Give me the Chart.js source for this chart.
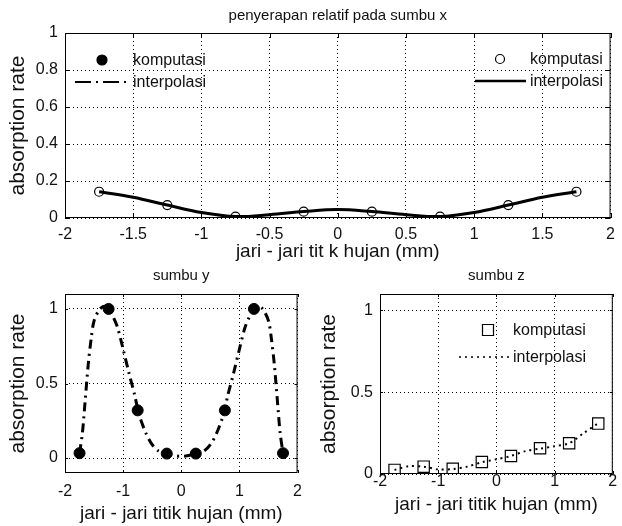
<!DOCTYPE html>
<html>
<head>
<meta charset="utf-8">
<title>penyerapan relatif</title>
<script src="https://cdn.jsdelivr.net/npm/chart.js@4.4.1/dist/chart.umd.min.js"></script>
<style>
  html, body { margin: 0; padding: 0; background: #fff; }
  #wrap { position: relative; width: 622px; height: 526px; overflow: hidden; }
  .panel { position: absolute; }
  #panelX { left: 0; top: 0; width: 622px; height: 266px; }
  #panelY { left: 0; top: 260px; width: 311px; height: 266px; }
  #panelZ { left: 315px; top: 260px; width: 307px; height: 266px; }
</style>
</head>
<body>
<div id="wrap">
  <div class="panel" id="panelX"><canvas id="grafikX"></canvas></div>
  <div class="panel" id="panelY"><canvas id="grafikY"></canvas></div>
  <div class="panel" id="panelZ"><canvas id="grafikZ"></canvas></div>
</div>
<script>
// Titik komputasi (jari-jari titik hujan dalam mm)
const jariJari = [-1.75, -1.25, -0.75, -0.25, 0.25, 0.75, 1.25, 1.75];
const komputasiX = [0.142, 0.07, 0.007, 0.034, 0.034, 0.007, 0.07, 0.142];
const komputasiY = [0.033, 1.0, 0.32, 0.03, 0.03, 0.32, 1.0, 0.033];
const komputasiZ = [0.025, 0.045, 0.032, 0.073, 0.11, 0.157, 0.188, 0.308];

// Kurva interpolasi
const jariInterpX = [-1.75, -1.5, -1.25, -1, -0.75, -0.5, -0.25, 0, 0.25, 0.5, 0.75, 1, 1.25, 1.5, 1.75];
const interpX = [0.142, 0.112, 0.07, 0.03, 0.008, 0.018, 0.035, 0.046, 0.035, 0.018, 0.008, 0.03, 0.07, 0.112, 0.142];

const jariInterpY = [-1.75, -1.7, -1.65, -1.6, -1.55, -1.5, -1.4, -1.3, -1.25, -1.2, -1.1, -1, -0.9, -0.8, -0.75, -0.7, -0.6, -0.5, -0.4, -0.3, -0.25, -0.2, -0.1, 0,
  0.1, 0.2, 0.25, 0.3, 0.4, 0.5, 0.6, 0.7, 0.75, 0.8, 0.9, 1, 1.1, 1.2, 1.25, 1.3, 1.4, 1.5, 1.55, 1.6, 1.65, 1.7, 1.75];
const interpY = [0.033, 0.17, 0.40, 0.63, 0.80, 0.92, 1.0, 1.02, 1.0, 0.97, 0.88, 0.73, 0.57, 0.42, 0.33, 0.26, 0.16, 0.09, 0.05, 0.032, 0.03, 0.025, 0.015, 0.012,
  0.015, 0.025, 0.03, 0.032, 0.05, 0.09, 0.16, 0.26, 0.33, 0.42, 0.57, 0.73, 0.88, 0.97, 1.0, 1.02, 1.0, 0.92, 0.80, 0.63, 0.40, 0.17, 0.033];

const jariInterpZ = [-1.75, -1.5, -1.25, -1, -0.75, -0.5, -0.25, 0, 0.25, 0.5, 0.75, 1, 1.25, 1.5, 1.75];
const interpZ = [0.025, 0.048, 0.045, 0.028, 0.03, 0.045, 0.072, 0.09, 0.11, 0.14, 0.155, 0.17, 0.188, 0.25, 0.31];

// Label sumbu
const tickAtasX = [-2, -1.5, -1, -0.5, 0, 0.5, 1, 1.5, 2];
const tickAtasY = [0, 0.2, 0.4, 0.6, 0.8, 1];
const tickBawahX = [-2, -1, 0, 1, 2];
const tickBawahY = [0, 0.5, 1];

const FONT = "'Liberation Sans', Arial, sans-serif";
const WARNA_TEKS = '#111';

function keTitik(xs, ys) {
  return xs.map((x, i) => ({ x: x, y: ys[i] }));
}

// Kotak sumbu + tick ke dalam (gaya MATLAB)
const kotakSumbu = {
  id: 'kotakSumbu',
  afterDraw(chart, args, opts) {
    const { ctx, chartArea: a, scales } = chart;
    const p = opts.panjang || 5;
    ctx.save();
    ctx.strokeStyle = '#000';
    ctx.lineWidth = 1;
    ctx.setLineDash([]);
    ctx.strokeRect(a.left + 0.5, a.top + 0.5, a.right - a.left - 1, a.bottom - a.top - 1);
    ctx.beginPath();
    scales.x.ticks.forEach(t => {
      const px = Math.round(scales.x.getPixelForValue(t.value)) + 0.5;
      ctx.moveTo(px, a.bottom); ctx.lineTo(px, a.bottom - p);
      ctx.moveTo(px, a.top); ctx.lineTo(px, a.top + p);
    });
    scales.y.ticks.forEach(t => {
      const py = Math.round(scales.y.getPixelForValue(t.value)) + 0.5;
      ctx.moveTo(a.left, py); ctx.lineTo(a.left + p, py);
      ctx.moveTo(a.right, py); ctx.lineTo(a.right - p, py);
    });
    ctx.stroke();
    ctx.restore();
  }
};

// Legenda manual (tanpa kotak)
const legendaManual = {
  id: 'legendaManual',
  afterDraw(chart, args, opts) {
    const ctx = chart.ctx;
    (opts.items || []).forEach(it => {
      ctx.save();
      ctx.strokeStyle = '#000';
      ctx.fillStyle = '#000';
      if (it.garis) {
        ctx.lineWidth = it.garis.lebar;
        ctx.setLineDash(it.garis.dash || []);
        ctx.beginPath();
        ctx.moveTo(it.garis.x1, it.y);
        ctx.lineTo(it.garis.x2, it.y);
        ctx.stroke();
        ctx.setLineDash([]);
      }
      if (it.titik) {
        const t = it.titik;
        ctx.lineWidth = 1.2;
        ctx.beginPath();
        if (t.gaya === 'rect') {
          ctx.rect(t.x - t.r, it.y - t.r, t.r * 2, t.r * 2);
        } else {
          ctx.arc(t.x, it.y, t.r, 0, Math.PI * 2);
        }
        if (t.isi) ctx.fill();
        ctx.stroke();
      }
      ctx.fillStyle = WARNA_TEKS;
      ctx.font = (opts.ukuran || 15) + 'px ' + FONT;
      ctx.textBaseline = 'middle';
      ctx.textAlign = 'left';
      ctx.fillText(it.label, it.teksX, it.y + 1);
      ctx.restore();
    });
  }
};

function sumbu(ticks, min, max, opsi) {
  return {
    type: 'linear',
    min: min,
    max: max,
    afterBuildTicks: s => { s.ticks = ticks.map(v => ({ value: v })); },
    afterFit: s => {
      if (opsi.lebar) s.width = opsi.lebar;
      if (opsi.tinggi) s.height = opsi.tinggi;
    },
    grid: { color: '#000', lineWidth: 1, drawTicks: false },
    border: { display: false, dash: [1, 3] },
    ticks: {
      padding: opsi.tickPad,
      color: WARNA_TEKS,
      font: { family: FONT, size: 16, lineHeight: 1.2 },
      maxRotation: 0,
      autoSkip: false,
      callback: v => String(v)
    },
    title: {
      display: true,
      text: opsi.judul,
      color: WARNA_TEKS,
      font: { family: FONT, size: opsi.ukuranJudul, lineHeight: 1.2 },
      padding: opsi.padJudul
    }
  };
}

function buatGrafik(id, datasets, cfg) {
  const ctx = document.getElementById(id).getContext('2d');
  return new Chart(ctx, {
    type: 'scatter',
    data: { datasets: datasets },
    options: {
      responsive: true,
      maintainAspectRatio: false,
      animation: false,
      layout: { padding: { left: 0, right: cfg.padKanan, top: 0, bottom: 0 } },
      scales: {
        x: sumbu(cfg.tickX, -2, 2, { tinggi: cfg.tinggiX, tickPad: cfg.tickPadX, judul: cfg.judulX, ukuranJudul: 19, padJudul: { top: 0, bottom: cfg.padJudulX } }),
        y: sumbu(cfg.tickY, cfg.minY, cfg.maxY, { lebar: 65, tickPad: 7, judul: 'absorption rate', ukuranJudul: 21, padJudul: { top: cfg.padJudulY, bottom: 0 } })
      },
      plugins: {
        legend: { display: false },
        tooltip: { enabled: false },
        title: {
          display: true,
          text: cfg.judul,
          fullSize: false,
          color: WARNA_TEKS,
          font: { family: FONT, size: 15, weight: 'normal', lineHeight: 1.2 },
          padding: cfg.padJudul
        },
        kotakSumbu: { panjang: cfg.panjangTick },
        legendaManual: { items: cfg.legenda, ukuran: 16 }
      }
    },
    plugins: [kotakSumbu, legendaManual]
  });
}

// Sumbu x (atas)
buatGrafik('grafikX', [
  {
    label: 'komputasi',
    data: keTitik(jariJari, komputasiX),
    pointRadius: 4.5,
    pointBackgroundColor: 'rgba(0,0,0,0)',
    pointBorderColor: '#000',
    pointBorderWidth: 1.2
  },
  {
    label: 'interpolasi',
    data: keTitik(jariInterpX, interpX),
    showLine: true,
    borderColor: '#000',
    borderWidth: 3,
    tension: 0.35,
    pointRadius: 0
  }
], {
  judul: 'penyerapan relatif pada sumbu x',
  padJudul: { top: 7, bottom: 8 },
  judulX: 'jari - jari tit k hujan (mm)',
  tickX: tickAtasX, tickY: tickAtasY,
  minY: 0, maxY: 1,
  padKanan: 4, tinggiX: 48, tickPadX: 7, padJudulX: 3, padJudulY: 6,
  panjangTick: 5,
  legenda: [
    { label: 'komputasi', teksX: 133, y: 60, titik: { x: 102, r: 5, isi: true } },
    { label: 'interpolasi', teksX: 133, y: 82, garis: { x1: 75, x2: 128, lebar: 2, dash: [16, 5, 2, 5] } },
    { label: 'komputasi', teksX: 530, y: 59, titik: { x: 500, r: 4.5, isi: false } },
    { label: 'interpolasi', teksX: 530, y: 81, garis: { x1: 475, x2: 526, lebar: 2.5 } }
  ]
});

// Sumbu y (kiri bawah)
buatGrafik('grafikY', [
  {
    label: 'komputasi',
    data: keTitik(jariJari, komputasiY),
    pointRadius: 5.5,
    pointBackgroundColor: '#000',
    pointBorderColor: '#000',
    pointBorderWidth: 1
  },
  {
    label: 'interpolasi',
    data: keTitik(jariInterpY, interpY),
    showLine: true,
    borderColor: '#000',
    borderWidth: 3,
    borderDash: [9, 5, 2, 5],
    tension: 0.3,
    pointRadius: 0
  }
], {
  judul: 'sumbu y',
  padJudul: { top: 7, bottom: 9 },
  judulX: 'jari - jari titik hujan (mm)',
  tickX: tickBawahX, tickY: tickBawahY,
  minY: -0.1, maxY: 1.1,
  padKanan: 8, tinggiX: 53, tickPadX: 9, padJudulX: 1, padJudulY: 6,
  panjangTick: 3,
  legenda: []
});

// Sumbu z (kanan bawah)
buatGrafik('grafikZ', [
  {
    label: 'komputasi',
    data: keTitik(jariJari, komputasiZ),
    pointStyle: 'rect',
    pointRadius: 8,
    pointBackgroundColor: 'rgba(0,0,0,0)',
    pointBorderColor: '#000',
    pointBorderWidth: 1.2
  },
  {
    label: 'interpolasi',
    data: keTitik(jariInterpZ, interpZ),
    showLine: true,
    borderColor: '#000',
    borderWidth: 2,
    borderDash: [2, 4],
    tension: 0.3,
    pointRadius: 0
  }
], {
  judul: 'sumbu z',
  padJudul: { top: 7, bottom: 9 },
  judulX: 'jari - jari titik hujan (mm)',
  tickX: tickBawahX, tickY: tickBawahY,
  minY: 0, maxY: 1.1,
  padKanan: 4, tinggiX: 52, tickPadX: -2, padJudulX: 10, padJudulY: 2,
  panjangTick: 3,
  legenda: [
    { label: 'komputasi', teksX: 198, y: 70, titik: { x: 173, r: 5.5, isi: false, gaya: 'rect' } },
    { label: 'interpolasi', teksX: 198, y: 97, garis: { x1: 144, x2: 196, lebar: 1.5, dash: [2, 4] } }
  ]
});
</script>
</body>
</html>
